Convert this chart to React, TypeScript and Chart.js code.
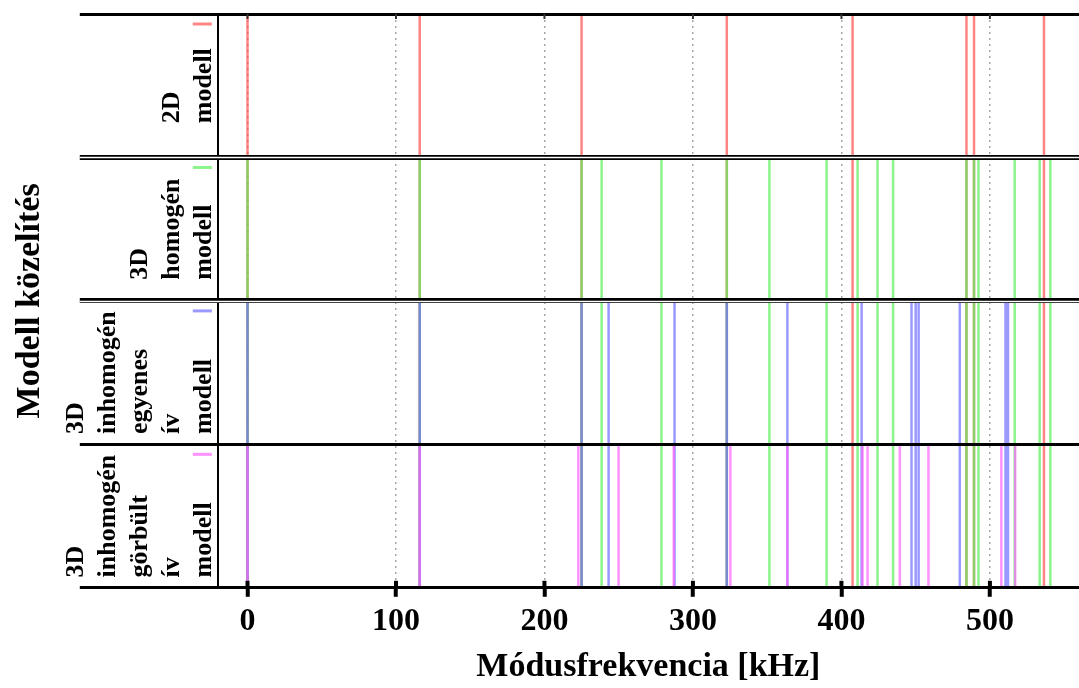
import React, { useEffect, useRef } from 'react';
import { Chart, registerables } from 'chart.js';

Chart.register(...registerables);

// Tick values of the frequency axis [kHz]
const xTickValues = [0, 100, 200, 300, 400, 500];

// Model (band) labels, top to bottom
const modelLabels = [
  ['2D', 'modell'],
  ['3D', 'homogén', 'modell'],
  ['3D', 'inhomogén', 'egyenes', 'ív', 'modell'],
  ['3D', 'inhomogén', 'görbült', 'ív', 'modell'],
];

// Mode frequencies [kHz] of each model
const freq2D = [0, 116, 225, 322.8, 407.5, 484.2, 489.3, 536.4];
const freq3DHomogen = [0, 116, 225, 238.5, 278.8, 322.8, 351.5, 390, 410.9, 424.3, 434.8, 484.2, 489.3, 492.3, 516.7, 533.5, 540.7];
const freq3DInhomEgyenes = [0, 116, 225, 243.2, 287.6, 322.8, 363.6, 413.6, 447.2, 450, 452, 479.7, 510.5, 512.2];
const freq3DInhomGorbult = [0, 116, 222.8, 249.9, 287.1, 325.2, 363.6, 414.2, 417.6, 439.3, 458.6, 507.7, 517];

const modelFreqs = [freq2D, freq3DHomogen, freq3DInhomEgyenes, freq3DInhomGorbult];
const modelColors = [
  'rgba(255,80,80,0.7)',
  'rgba(90,240,90,0.7)',
  'rgba(110,110,255,0.7)',
  'rgba(255,100,255,0.7)',
];
// upper y-value reached by the lines of each model (bands: 4..3, 3..2, 2..1, 1..0)
const bandTop = [4, 3, 2, 1];
// separators drawn as double lines
const doubleSeparators = [3, 2];

const SERIF = '"Liberation Serif", "Times New Roman", serif';

const bandLabelPlugin = {
  id: 'bandLabels',
  afterDraw(chart: any) {
    const { ctx, chartArea, scales } = chart;
    const x = scales.x;
    const y = scales.y;
    ctx.save();
    // double separator lines: white gap in the middle of the thick line
    doubleSeparators.forEach((v) => {
      const py = Math.round(y.getPixelForValue(v)) + 0.5;
      ctx.strokeStyle = '#fff';
      ctx.lineWidth = 1.5;
      ctx.beginPath();
      ctx.moveTo(chartArea.left - 138, py);
      ctx.lineTo(chartArea.right, py);
      ctx.stroke();
    });
    ctx.font = `bold 26px ${SERIF}`;
    ctx.fillStyle = '#000';
    ctx.textBaseline = 'middle';
    ctx.textAlign = 'left';
    modelLabels.forEach((lines, k) => {
      const top = y.getPixelForValue(bandTop[k]);
      const bottom = y.getPixelForValue(bandTop[k] - 1);
      const cy = (top + bottom) / 2;
      const w = Math.max(...lines.map((l) => ctx.measureText(l).width));
      const n = lines.length;
      lines.forEach((line, i) => {
        const cx = chartArea.left - 14 - (n - 1 - i) * 32;
        ctx.save();
        ctx.translate(cx, cy + w / 2);
        ctx.rotate(-Math.PI / 2);
        ctx.fillText(line, 0, 0);
        ctx.restore();
      });
      ctx.strokeStyle = modelColors[k];
      ctx.lineWidth = 3;
      ctx.beginPath();
      ctx.moveTo(chartArea.left - 25, top + 10);
      ctx.lineTo(chartArea.left - 6, top + 10);
      ctx.stroke();
    });
    // tick marks crossing the axis line and small marks at the top border
    xTickValues.forEach((v) => {
      const px = x.getPixelForValue(v);
      ctx.strokeStyle = '#000';
      ctx.lineWidth = 4;
      ctx.beginPath();
      ctx.moveTo(px, chartArea.bottom - 7);
      ctx.lineTo(px, chartArea.bottom);
      ctx.stroke();
      ctx.strokeStyle = '#333';
      ctx.lineWidth = 2;
      ctx.beginPath();
      ctx.moveTo(px, chartArea.top);
      ctx.lineTo(px, chartArea.top + 5);
      ctx.stroke();
    });
    ctx.restore();
  },
};

export default function App() {
  const canvasRef = useRef<HTMLCanvasElement | null>(null);

  useEffect(() => {
    document.body.style.margin = '0';
    document.body.style.overflow = 'hidden';
    const canvas = canvasRef.current;
    if (!canvas) return;

    const datasets = modelFreqs.map((freqs, k) => {
      const data: any[] = [];
      freqs.forEach((f) => {
        data.push({ x: f, y: bandTop[k] });
        data.push({ x: f, y: 0 });
        data.push({ x: f, y: null });
      });
      return {
        label: modelLabels[k].join(' '),
        data,
        borderColor: modelColors[k],
        backgroundColor: modelColors[k],
        borderWidth: 2.5,
        pointRadius: 0,
        pointHoverRadius: 0,
        fill: false,
        tension: 0,
        spanGaps: false,
        order: 4 - k,
      };
    });

    const chart = new Chart(canvas, {
      type: 'line',
      data: { datasets },
      options: {
        animation: false,
        responsive: false,
        events: [],
        layout: { padding: { top: 14, left: 0, right: 0, bottom: 0 } },
        plugins: {
          legend: { display: false },
          tooltip: { enabled: false },
        },
        scales: {
          x: {
            type: 'linear',
            min: -20,
            max: 560,
            afterBuildTicks: (scale: any) => {
              scale.ticks = xTickValues.map((v) => ({ value: v }));
            },
            ticks: {
              font: { family: SERIF, size: 32, weight: 'bold' },
              color: '#000',
              padding: 6,
              maxRotation: 0,
              minRotation: 0,
            },
            grid: {
              color: 'rgba(0,0,0,0.35)',
              lineWidth: 1.5,
              drawTicks: true,
              tickLength: 9,
              tickWidth: 4,
              tickColor: '#000',
            },
            border: { display: true, color: '#000', width: 3, dash: [2, 4] },
            title: {
              display: true,
              text: 'Módusfrekvencia [kHz]',
              font: { family: SERIF, size: 34, weight: 'bold' },
              color: '#000',
              padding: { top: 0, bottom: 0 },
            },
          },
          y: {
            type: 'linear',
            min: 0,
            max: 4,
            ticks: { display: false, stepSize: 1 },
            grid: {
              color: '#000',
              lineWidth: (ctx: any) => (doubleSeparators.includes(ctx.tick?.value) ? 5 : 3),
              drawTicks: true,
              tickLength: 138,
              tickWidth: (ctx: any) => (doubleSeparators.includes(ctx.tick?.value) ? 5 : 3),
              tickColor: '#000',
              z: 1,
            },
            border: { display: true, color: '#000', width: 2, z: 1 },
            title: {
              display: true,
              text: 'Modell közelítés',
              font: { family: SERIF, size: 34, weight: 'bold' },
              color: '#000',
              padding: { top: 10, bottom: 29 },
            },
          },
        },
      },
      plugins: [bandLabelPlugin],
    } as any);

    return () => chart.destroy();
  }, []);

  return (
    <div style={{ width: 1079, height: 688 }}>
      <canvas ref={canvasRef} width={1079} height={688} style={{ display: 'block' }} />
    </div>
  );
}
